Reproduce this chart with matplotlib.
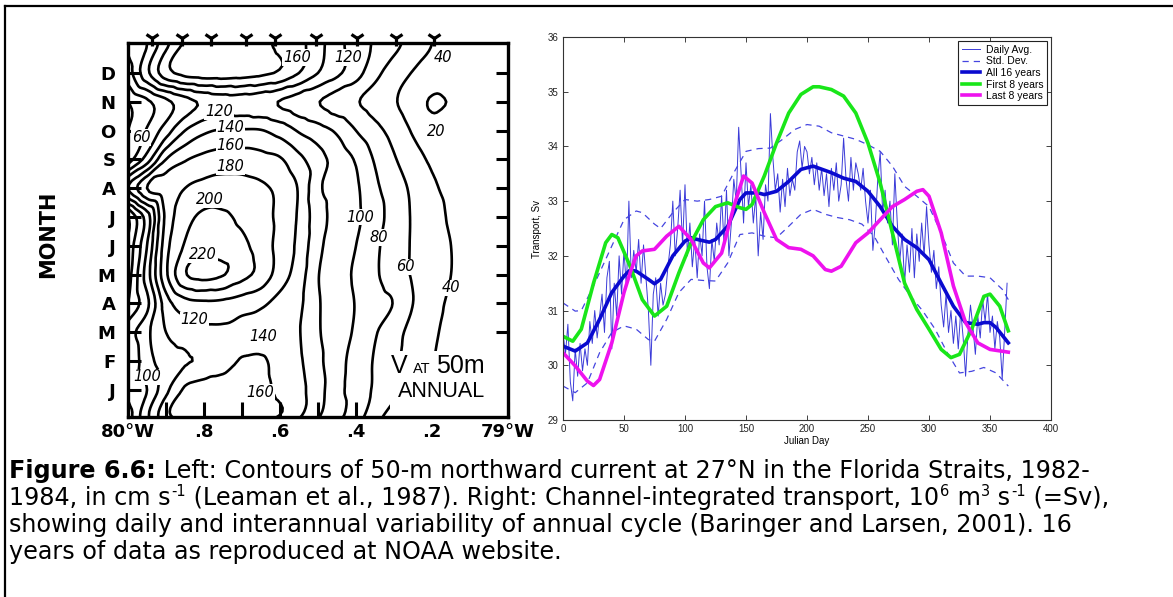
import numpy as np
import matplotlib
matplotlib.use("Agg")
import matplotlib.pyplot as plt
from matplotlib.tri import Triangulation, UniformTriRefiner, CubicTriInterpolator
from matplotlib.lines import Line2D
from matplotlib.patches import Rectangle

# ---------------- data: left panel (50 m velocity, cm/s) ----------------
month_labels = ["J", "F", "M", "A", "M", "J", "J", "A", "S", "O", "N", "D"]
lon_labels = ["80°W", ".8", ".6", ".4", ".2", "79°W"]
lon_ticks = [0.0, 0.2, 0.4, 0.6, 0.8, 1.0]          # degrees east of 80°W
grid_lon = [0.0, 0.05, 0.10, 0.15, 0.20, 0.25, 0.30, 0.35, 0.40, 0.45, 0.50,
            0.55, 0.60, 0.65, 0.70, 0.75, 0.80, 0.85, 0.90, 0.95, 1.0]
speed_jan = [85, 100, 135, 163, 170, 172, 170, 165, 156, 146, 128, 106, 92, 77, 65, 52, 40, 33, 30, 30, 30]
speed_feb = [80, 112, 130, 138, 142, 150, 162, 163, 152, 143, 125, 107, 93, 78, 64, 52, 41, 34, 30, 30, 30]
speed_mar = [90, 115, 140, 150, 155, 156, 152, 148, 145, 141, 122, 110, 97, 82, 66, 55, 43, 36, 32, 30, 30]
speed_apr = [60, 95, 150, 172, 176, 175, 170, 164, 153, 144, 122, 110, 99, 88, 79, 60, 45, 38, 33, 30, 30]
speed_may = [50, 110, 176, 218, 226, 221, 206, 193, 170, 150, 121, 108, 97, 83, 70, 58, 48, 40, 35, 31, 30]
speed_jun = [45, 100, 172, 202, 212, 210, 204, 192, 172, 155, 125, 111, 100, 84, 70, 58, 48, 40, 35, 32, 30]
speed_jul = [40, 90, 165, 192, 204, 203, 196, 187, 175, 157, 128, 114, 104, 88, 72, 58, 47, 38, 34, 31, 30]
speed_aug = [120, 160, 172, 180, 186, 188, 187, 183, 175, 158, 124, 113, 103, 84, 70, 56, 43, 36, 33, 31, 30]
speed_sep = [50, 90, 140, 158, 166, 170, 170, 167, 162, 145, 128, 112, 98, 78, 62, 48, 37, 32, 30, 30, 30]
speed_oct = [40, 62, 90, 120, 136, 142, 142, 141, 132, 118, 108, 97, 80, 66, 53, 38, 28, 26, 27, 28, 30]
speed_nov = [40, 56, 75, 92, 104, 110, 110, 106, 99, 90, 81, 70, 62, 52, 42, 30, 18, 21, 24, 25, 26]
speed_dec = [70, 115, 152, 166, 170, 170, 168, 164, 157, 140, 120, 104, 88, 66, 50, 39, 34, 31, 30, 30, 30]
contour_levels = [20, 40, 60, 80, 100, 120, 140, 160, 180, 200, 220]
mooring_lon = [0.063, 0.142, 0.218, 0.311, 0.387, 0.495, 0.603, 0.705, 0.805]

label_text = ["160", "120", "40", "120", "140", "160", "180", "200", "220", "60",
              "20", "100", "80", "60", "40", "120", "140", "100", "160"]
label_lon = [0.445, 0.58, 0.83, 0.24, 0.27, 0.27, 0.27, 0.215, 0.197, 0.035,
             0.81, 0.61, 0.66, 0.73, 0.85, 0.175, 0.355, 0.05, 0.347]
label_month = [11.53, 11.53, 11.53, 9.65, 9.1, 8.5, 7.75, 6.6, 4.69, 8.75,
               8.96, 6.0, 5.28, 4.27, 3.54, 2.43, 1.84, 0.45, -0.1]

# ---------------- data: right panel (transport, Sv) ----------------
daily_day = list(range(0, 365, 2))
daily_avg = [30.6, 30.2, 30.75, 29.7, 29.35, 30.3, 29.8, 30.4, 29.9, 30.3,
             30.0, 30.8, 30.4, 31.0, 30.5, 30.9, 31.3, 30.6, 31.6, 31.9,
             30.3, 31.5, 30.9, 32.0, 31.3, 32.1, 31.4, 33.0, 31.6, 32.1,
             31.7, 32.3, 31.5, 32.2, 31.6, 31.0, 30.0, 31.3, 31.6, 30.9,
             31.5, 31.1, 31.3, 31.8, 32.2, 33.0, 32.0, 32.5, 33.2, 32.2,
             33.3, 32.0, 32.6, 31.8, 32.3, 31.6, 32.4, 32.0, 33.0, 31.8,
             31.4, 32.3, 31.9, 32.6, 32.2, 33.1, 32.2, 33.2, 32.0, 32.6,
             33.4, 33.0, 34.35, 33.5, 32.6, 33.7, 32.9, 33.3, 32.6, 33.1,
             32.0, 32.8, 32.3, 33.3, 33.0, 34.6, 33.8, 33.2, 33.5, 32.8,
             33.4, 32.9, 33.6, 33.1, 33.4, 33.2, 33.9, 34.1, 33.6, 34.0,
             33.9, 33.5, 33.8, 33.3, 33.7, 33.2, 33.6, 33.1, 33.5, 32.9,
             33.6, 33.2, 33.7, 33.0, 33.3, 34.15, 33.4, 33.0, 33.8, 33.2,
             33.7, 33.5, 33.2, 33.6, 33.0, 32.6, 33.2, 32.1, 32.6, 33.4,
             33.9, 32.8, 33.2, 32.6, 33.0, 32.2, 33.5, 32.6, 31.9, 32.4,
             31.5, 32.2, 31.7, 32.5, 31.6, 32.4, 31.9, 32.6, 32.0, 32.9,
             32.2, 31.7, 32.1, 31.4, 31.8, 31.1, 30.7, 31.3, 30.6, 31.0,
             30.4, 30.9, 30.3, 31.0, 30.5, 29.8, 30.6, 31.1, 30.7, 30.2,
             30.9, 30.5, 31.2, 30.8, 31.3, 30.6, 30.9, 30.3, 30.8, 30.5,
             29.75, 30.6, 31.5]

std_day = [0, 10, 15, 25, 40, 50, 60, 65, 75, 80, 90, 100, 110, 120, 130, 140, 150,
           160, 170, 180, 190, 200, 210, 220, 230, 240, 250, 260, 270, 280, 290,
           300, 310, 320, 330, 340, 350, 360, 365]
std_upper = [31.14, 30.99, 31.0, 31.45, 32.18, 32.66, 32.82, 32.79, 32.58, 32.5,
             32.79, 33.03, 33.0, 33.03, 33.09, 33.52, 33.91, 33.96, 33.97, 34.13,
             34.31, 34.4, 34.37, 34.25, 34.19, 34.13, 34.03, 33.91, 33.64, 33.27,
             33.09, 32.9, 32.42, 31.87, 31.63, 31.63, 31.6, 31.39, 31.2]
low_day = [0, 10, 20, 30, 40, 50, 60, 70, 75, 85, 95, 105, 115, 125, 135, 145, 155,
           165, 175, 185, 195, 205, 215, 225, 235, 245, 255, 265, 275, 285, 295,
           305, 315, 325, 335, 345, 355, 365]
std_lower = [29.62, 29.5, 29.68, 30.23, 30.6, 30.72, 30.66, 30.47, 30.44, 30.84,
             31.33, 31.57, 31.55, 31.54, 31.87, 32.39, 32.42, 32.36, 32.33, 32.54,
             32.76, 32.85, 32.76, 32.7, 32.66, 32.58, 32.36, 31.96, 31.57, 31.26,
             30.99, 30.66, 30.23, 29.86, 29.89, 29.96, 29.86, 29.62]

all_day = [0, 10, 20, 30, 40, 50, 55, 60, 70, 75, 80, 90, 100, 105, 110, 120, 125,
           135, 145, 150, 160, 165, 175, 185, 195, 205, 210, 220, 230, 240, 250,
           260, 270, 280, 290, 300, 310, 320, 330, 340, 345, 350, 355, 365]
all16 = [30.35, 30.26, 30.41, 30.84, 31.33, 31.63, 31.74, 31.72, 31.57, 31.49,
         31.57, 32.0, 32.27, 32.33, 32.3, 32.25, 32.3, 32.54, 33.03, 33.15,
         33.15, 33.12, 33.18, 33.36, 33.58, 33.64, 33.6, 33.52, 33.42, 33.36,
         33.18, 32.9, 32.54, 32.3, 32.15, 31.93, 31.5, 31.08, 30.78, 30.75,
         30.78, 30.78, 30.69, 30.41]

first_day = [0, 8, 15, 25, 35, 40, 45, 55, 65, 75, 85, 95, 105, 115, 125, 135, 145,
             150, 155, 165, 175, 185, 195, 205, 210, 220, 230, 240, 250, 260, 270,
             280, 290, 300, 310, 318, 325, 335, 345, 350, 358, 365]
first8 = [30.53, 30.44, 30.66, 31.5, 32.24, 32.39, 32.33, 31.81, 31.2, 30.9,
          31.08, 31.69, 32.24, 32.66, 32.9, 32.97, 32.88, 32.85, 32.94, 33.46,
          34.06, 34.61, 34.95, 35.09, 35.09, 35.04, 34.92, 34.61, 34.06, 33.33,
          32.42, 31.5, 31.02, 30.66, 30.29, 30.14, 30.2, 30.66, 31.26, 31.3,
          31.08, 30.63]

last_day = [0, 10, 20, 25, 30, 40, 50, 55, 60, 65, 75, 85, 95, 105, 115, 120, 130,
            140, 148, 155, 165, 175, 185, 195, 205, 215, 220, 228, 240, 250, 260,
            270, 280, 290, 295, 300, 310, 320, 330, 340, 350, 365]
last8 = [30.23, 29.99, 29.71, 29.63, 29.74, 30.41, 31.33, 31.69, 32.0, 32.09,
         32.12, 32.36, 32.54, 32.3, 31.87, 31.78, 32.05, 32.9, 33.46, 33.33,
         32.79, 32.3, 32.15, 32.12, 32.0, 31.75, 31.72, 31.81, 32.24, 32.42,
         32.66, 32.9, 33.03, 33.18, 33.21, 33.09, 32.42, 31.45, 30.78, 30.41,
         30.29, 30.24]

# caption: (text, style) pieces per line; style b = bold, n = normal, s = superscript
caption_pieces = [
    [("Figure 6.6:", "b"),
     (" Left: Contours of 50-m northward current at 27°N in the Florida Straits, 1982-", "n")],
    [("1984, in cm s", "n"), ("-1", "s"),
     (" (Leaman et al., 1987). Right: Channel-integrated transport, 10", "n"), ("6", "s"),
     (" m", "n"), ("3", "s"), (" s", "n"), ("-1", "s"), (" (=Sv),", "n")],
    [("showing daily and interannual variability of annual cycle (Baringer and Larsen, 2001). 16", "n")],
    [("years of data as reproduced at NOAA website.", "n")],
]

# ---------------- figure ----------------
plt.rcParams["font.family"] = ["Liberation Sans", "DejaVu Sans"]

W, H = 1173, 597
fig = plt.figure(figsize=(W / 100, H / 100), dpi=100)
renderer = fig.canvas.get_renderer()


def fx(px):
    return px / W


def fy(py):
    return 1 - py / H


# ---- left panel ----
ax1 = fig.add_axes([fx(128), fy(417), fx(508) - fx(128), fy(43) - fy(417)])
rows = [speed_nov, speed_dec, speed_jan, speed_feb, speed_mar, speed_apr, speed_may,
        speed_jun, speed_jul, speed_aug, speed_sep, speed_oct, speed_nov, speed_dec,
        speed_jan, speed_feb]
month_pos = np.arange(-2, 14)
V = np.array(rows, dtype=float)
LON, MON = np.meshgrid(np.array(grid_lon), month_pos)
ny, nx = V.shape
idx = np.arange(ny * nx).reshape(ny, nx)
a = idx[:-1, :-1].ravel()
b = idx[:-1, 1:].ravel()
c = idx[1:, 1:].ravel()
d = idx[1:, :-1].ravel()
triangles = np.vstack([np.c_[a, b, c], np.c_[a, c, d]])
tri = Triangulation(LON.ravel(), MON.ravel(), triangles)
interp = CubicTriInterpolator(tri, V.ravel(), kind="geom")
tri_f, v_f = UniformTriRefiner(tri).refine_field(V.ravel(), triinterpolator=interp, subdiv=3)
ax1.tricontour(tri_f, v_f, levels=contour_levels, colors="k", linewidths=1.9)

ax1.set_xlim(0, 1)
ax1.set_ylim(-0.94, 12.04)
ax1.set_xticks(lon_ticks)
ax1.set_xticklabels(lon_labels)
ax1.set_xticks([0.1, 0.3, 0.5, 0.7, 0.9], minor=True)
ax1.set_yticks(range(12))
ax1.set_yticklabels(month_labels)
ax1.tick_params(axis="x", which="both", direction="in", length=11, width=2.2,
                top=False, bottom=True, pad=4, labelsize=13)
ax1.tick_params(axis="y", direction="in", length=9, width=2.2, left=True, right=True,
                pad=9, labelsize=13)
for lab in ax1.get_xticklabels() + ax1.get_yticklabels():
    lab.set_fontweight("bold")
    lab.set_family("DejaVu Sans")
for sp in ax1.spines.values():
    sp.set_linewidth(2.4)

ax1.plot(mooring_lon, [12.2] * len(mooring_lon), ls="none", marker="1", ms=11,
         mew=2.3, color="k", clip_on=False)

for t, u, m in zip(label_text, label_lon, label_month):
    ax1.text(u, m, t, ha="center", va="center", fontsize=10.5, style="italic",
             family="DejaVu Sans", zorder=5,
             bbox=dict(facecolor="white", edgecolor="none", pad=0.6))

# white area behind the panel annotation (contours stop above it)
ax1.add_patch(Rectangle((0.69, -0.94), 0.31, 2.29, facecolor="white",
                        edgecolor="none", zorder=2.2))
x_cur = 0.693
for s, f, gap in [("V", 18, 0), ("AT", 10.5, 5), ("50m", 18, 5)]:
    x_cur += gap / 380
    tt = ax1.text(x_cur, 0.59, s, fontsize=f, ha="left", va="baseline", zorder=6)
    x_cur += tt.get_window_extent(renderer=renderer).width / 380
ax1.text(0.71, -0.24, "ANNUAL", ha="left", va="baseline", fontsize=15.5, zorder=6)

fig.text(fx(48), fy(234), "MONTH", rotation=90, ha="center", va="center",
         fontsize=15, fontweight="bold", family="DejaVu Sans")

# ---- right panel ----
ax2 = fig.add_axes([fx(563), fy(420), fx(1051) - fx(563), fy(37) - fy(420)])
ax2.plot(daily_day, daily_avg, color="#3b3bd8", lw=0.7, label="Daily Avg.")
ax2.plot(std_day, std_upper, color="#4545e0", lw=0.9, ls=(0, (5, 4)), label="Std. Dev.")
ax2.plot(low_day, std_lower, color="#4545e0", lw=0.9, ls=(0, (5, 4)))
ax2.plot(all_day, all16, color="#0a0acf", lw=2.6, label="All 16 years")
ax2.plot(first_day, first8, color="#19e619", lw=2.6, label="First 8 years")
ax2.plot(last_day, last8, color="#ee12ee", lw=2.6, label="Last 8 years")
ax2.set_xlim(0, 400)
ax2.set_ylim(29, 36)
ax2.set_xticks(range(0, 401, 50))
ax2.set_yticks(range(29, 37))
ax2.tick_params(direction="in", length=3.5, width=0.6, top=True, right=True,
                labelsize=7, colors="#222222", pad=3)
for sp in ax2.spines.values():
    sp.set_linewidth(0.8)
    sp.set_color("#333333")
ax2.set_ylabel("Transport, Sv", fontsize=7, labelpad=4)
ax2.set_xlabel("Julian Day", fontsize=7, labelpad=1)
leg = ax2.legend(loc="upper right", fontsize=7.5, frameon=True, fancybox=False,
                 edgecolor="#222222", framealpha=1, borderaxespad=0.4,
                 handlelength=1.8, handletextpad=0.5, labelspacing=0.15, borderpad=0.35)
leg.get_frame().set_linewidth(0.8)

# ---- caption ----
ax0 = fig.add_axes([0, 0, 1, 1], zorder=-1)
ax0.axis("off")
ax0.set_xlim(0, W)
ax0.set_ylim(H, 0)
cap_fs = 17.2
sup_fs = 10.5
cap_family = "DejaVu Sans"
baselines = [478, 505, 532, 559]
for pieces, yb in zip(caption_pieces, baselines):
    x = 9
    for s, kind in pieces:
        if kind == "s":
            t = ax0.text(x + 1, yb - 8.5, s, fontsize=sup_fs, family=cap_family, va="baseline")
            x += t.get_window_extent(renderer=renderer).width + 1
        else:
            t = ax0.text(x, yb, s, fontsize=cap_fs, family=cap_family, va="baseline",
                         fontweight="bold" if kind == "b" else "normal")
            x += t.get_window_extent(renderer=renderer).width

# ---- page frame ----
fig.add_artist(Line2D([fx(5), 1], [fy(6), fy(6)], transform=fig.transFigure, color="k", lw=1.6))
fig.add_artist(Line2D([fx(5), fx(5)], [0, fy(6)], transform=fig.transFigure, color="k", lw=1.6))

fig.savefig("out.png", dpi=100, facecolor="white")
